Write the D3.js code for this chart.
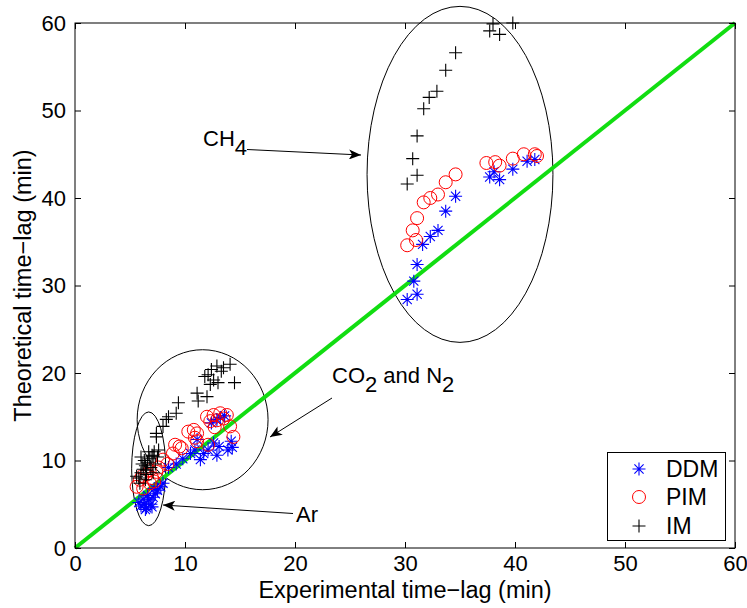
<!DOCTYPE html>
<html><head><meta charset="utf-8">
<script src="https://cdn.jsdelivr.net/npm/d3@7"></script>
<style>body{margin:0;background:#fff}text{font-family:"Liberation Sans",Arial,sans-serif}</style>
</head><body><svg id="c" width="747" height="608"></svg>
<script>
// ---- data ----
const xTicks = [0,10,20,30,40,50,60];
const yTicks = [0,10,20,30,40,50,60];
const seriesNames = ["DDM","PIM","IM"];
const ddm = [
 // Ar
 [5.8,5.2],[6.0,4.8],[6.3,5.0],[6.5,4.6],[6.7,5.5],[6.9,5.0],[7.1,5.8],[7.3,6.2],[6.2,5.6],[6.6,6.0],[7.5,6.6],[7.8,7.0],[6.4,4.4],[7.0,4.7],[8.0,7.4],[7.2,6.8],
 [8.5,9.2],[9.2,9.6],[9.8,10.2],[10.5,10.8],
 // CO2 / N2
 [14.2,12.2],[13.9,11.2],[11.1,12.4],[10.9,11.2],[12.1,11.2],[12.9,14.7],[12.4,14.3],[11.7,10.8],[11.4,10.1],[12.9,10.6],[14.3,11.5],[13.2,14.9],[13.6,15.1],[12.6,12.0],[13.1,11.6],
 // CH4
 [34.6,40.2],[33.7,38.5],[33.0,36.3],[32.3,35.6],[31.6,34.7],[31.1,32.4],[30.8,30.5],[31.1,29.0],[30.2,28.4],[37.7,42.4],[38.6,42.1],[38.1,43.0],[39.8,43.3],[41.1,44.2],[41.8,44.4]
];
const pim = [
 // Ar
 [5.6,7.0],[6.2,6.8],[6.8,7.4],[5.9,7.8],[7.4,8.7],[8.0,10.1],[8.9,10.8],[9.5,11.6],[6.5,8.4],[7.0,8.0],[7.6,9.2],[6.1,8.2],[6.8,8.9],[7.2,7.6],[8.4,9.6],
 // CO2 / N2
 [12.0,15.0],[12.6,15.2],[13.2,15.4],[13.8,15.2],[12.3,14.5],[12.9,14.6],[10.8,13.5],[11.1,13.1],[14.1,13.9],[14.4,12.7],[9.1,11.8],[9.7,11.4],[11.1,12.2],[12.1,11.8],[13.5,14.8],[12.7,13.8],[10.3,13.3],[10.9,12.6],
 // CH4
 [30.2,34.6],[31.0,35.2],[30.7,36.3],[31.1,37.7],[31.7,39.5],[32.3,40.0],[33.0,40.4],[33.7,41.8],[34.6,42.7],[37.4,44.0],[38.2,44.1],[38.6,43.7],[39.8,44.5],[40.8,45.0],[41.8,45.0],[42.0,44.8]
];
const im = [
 // Ar
 [5.8,8.0],[6.0,8.6],[6.2,9.0],[6.4,9.4],[6.5,8.4],[6.6,9.8],[6.8,10.2],[7.0,10.6],[7.2,11.0],[6.3,10.0],[6.9,9.2],[7.3,9.6],[7.5,10.4],[6.1,9.6],[6.7,11.0],[7.1,8.6],[5.9,7.4],[6.4,7.8],[7.6,11.2],[6.0,10.4],[5.6,8.2],[6.5,8.9],[7.1,10.5],
 // CO2 / N2
 [14.1,21.0],[13.5,20.6],[12.9,20.8],[12.4,20.4],[12.1,19.8],[12.6,19.2],[13.0,18.9],[14.5,18.9],[12.3,18.7],[11.1,17.7],[11.2,16.8],[12.0,17.3],[9.4,16.6],[9.2,15.4],[8.3,14.7],[8.0,13.9],[7.4,12.7],[13.3,20.2],[11.8,19.6],[7.4,13.1],[8.5,15.0],
 // CH4
 [38.0,59.9],[37.7,59.1],[38.6,58.7],[39.8,60.0],[34.6,56.6],[33.7,54.6],[32.9,52.2],[32.2,51.5],[31.7,50.2],[31.1,47.1],[30.7,44.5],[31.1,42.6],[30.2,41.6]
];
const ellipses = [ // cx, cy, rx, ry in data units
 [35.0,42.7,8.45,19.2],
 [11.6,14.66,5.95,8.0],
 [6.7,9.05,1.55,6.5]
];

// ---- layout ----
const svg = d3.select("#c");
const L=75, T=23, W=660, H=525;
const FS = 22;
const x = d3.scaleLinear().domain([0,60]).range([L,L+W]);
const y = d3.scaleLinear().domain([0,60]).range([T+H,T]);
const g = svg.append("g");

// ellipses
g.selectAll("ellipse").data(ellipses).join("ellipse")
 .attr("cx",d=>x(d[0])).attr("cy",d=>y(d[1]))
 .attr("rx",d=>x(d[2])-x(0)).attr("ry",d=>y(0)-y(d[3]))
 .attr("fill","none").attr("stroke","#000").attr("stroke-width",1);

// green 1:1 line
g.append("line").attr("x1",x(0)).attr("y1",y(0)).attr("x2",x(60)).attr("y2",y(60))
 .attr("stroke","#11dd11").attr("stroke-width",4);

// markers
function star(sel,col){
  const s=6.5, d=s*0.707;
  sel.append("path").attr("d",`M${-s},0H${s}M0,${-s}V${s}M${-d},${-d}L${d},${d}M${-d},${d}L${d},${-d}`)
    .attr("stroke",col).attr("stroke-width",1.1).attr("fill","none");
}
function plus(sel,col){
  const s=6.5;
  sel.append("path").attr("d",`M${-s},0H${s}M0,${-s}V${s}`).attr("stroke",col).attr("stroke-width",1.1).attr("fill","none");
}
function circ(sel,col){
  sel.append("circle").attr("r",6.5).attr("stroke",col).attr("stroke-width",1).attr("fill","none");
}
const gd = g.append("g").selectAll("g").data(ddm).join("g").attr("transform",d=>`translate(${x(d[0])},${y(d[1])})`);
star(gd,"#0000ff");
const gp = g.append("g").selectAll("g").data(pim).join("g").attr("transform",d=>`translate(${x(d[0])},${y(d[1])})`);
circ(gp,"#ff0000");
const gi = g.append("g").selectAll("g").data(im).join("g").attr("transform",d=>`translate(${x(d[0])},${y(d[1])})`);
plus(gi,"#000");

// axes box and ticks
const ax = svg.append("g");
ax.append("rect").attr("x",L).attr("y",T).attr("width",W).attr("height",H).attr("fill","none").attr("stroke","#000").attr("stroke-width",1);
ax.append("g").attr("transform",`translate(0,${T+H})`).call(d3.axisBottom(x).tickValues(xTicks).tickSizeInner(-6).tickSizeOuter(0).tickPadding(7));
ax.append("g").attr("transform",`translate(0,${T})`).call(d3.axisTop(x).tickValues(xTicks).tickSizeInner(-6).tickSizeOuter(0).tickFormat(""));
ax.append("g").attr("transform",`translate(${L},0)`).call(d3.axisLeft(y).tickValues(yTicks).tickSizeInner(-6).tickSizeOuter(0).tickPadding(9));
ax.append("g").attr("transform",`translate(${L+W},0)`).call(d3.axisRight(y).tickValues(yTicks).tickSizeInner(-6).tickSizeOuter(0).tickFormat(""));
ax.selectAll(".domain").remove();
ax.selectAll("text").attr("font-size",FS).attr("font-family","Liberation Sans, Arial, sans-serif").attr("fill","#000");

// axis labels
svg.append("text").attr("x",x(30)).attr("y",598).attr("text-anchor","middle").attr("font-size",23.5).text("Experimental time\u2212lag (min)");
svg.append("text").attr("transform",`translate(31,${y(30)}) rotate(-90)`).attr("text-anchor","middle").attr("font-size",23.5).text("Theoretical time\u2212lag (min)");

// annotations
const defs = svg.append("defs");
defs.append("marker").attr("id","ah").attr("viewBox","0 0 12 10").attr("refX",12).attr("refY",5)
 .attr("markerWidth",14).attr("markerHeight",10).attr("markerUnits","userSpaceOnUse").attr("orient","auto")
 .append("path").attr("d","M0,0L12,5L0,10L3,5Z").attr("fill","#000");
function arrow(x1,y1,x2,y2){
  svg.append("line").attr("x1",x1).attr("y1",y1).attr("x2",x2).attr("y2",y2).attr("stroke","#000").attr("stroke-width",1).attr("marker-end","url(#ah)");
}
const t1 = svg.append("text").attr("x",203).attr("y",146).attr("font-size",FS);
t1.append("tspan").text("CH");
t1.append("tspan").attr("dy",9).text("4");
arrow(247,149.5,361,155);
const t2 = svg.append("text").attr("x",332).attr("y",383).attr("font-size",FS);
t2.append("tspan").text("CO");
t2.append("tspan").attr("dy",9).text("2");
t2.append("tspan").attr("dy",-9).text(" and N");
t2.append("tspan").attr("dy",9).text("2");
arrow(332,398,270,437);
svg.append("text").attr("x",296).attr("y",522).attr("font-size",FS).text("Ar");
arrow(293,513.5,163,505);

// legend
const lg = svg.append("g");
lg.append("rect").attr("x",607.5).attr("y",452.5).attr("width",118).attr("height",88).attr("fill","#fff").attr("stroke","#000").attr("stroke-width",1);
const ly = [469,497,526];
seriesNames.forEach((n,i)=>{
  const e = lg.append("g").attr("transform",`translate(639,${ly[i]})`);
  if(i===0) star(e,"#0000ff"); else if(i===1) circ(e,"#ff0000"); else plus(e,"#000");
  lg.append("text").attr("x",666).attr("y",ly[i]+8).attr("font-size",23).text(n);
});
</script></body></html>
